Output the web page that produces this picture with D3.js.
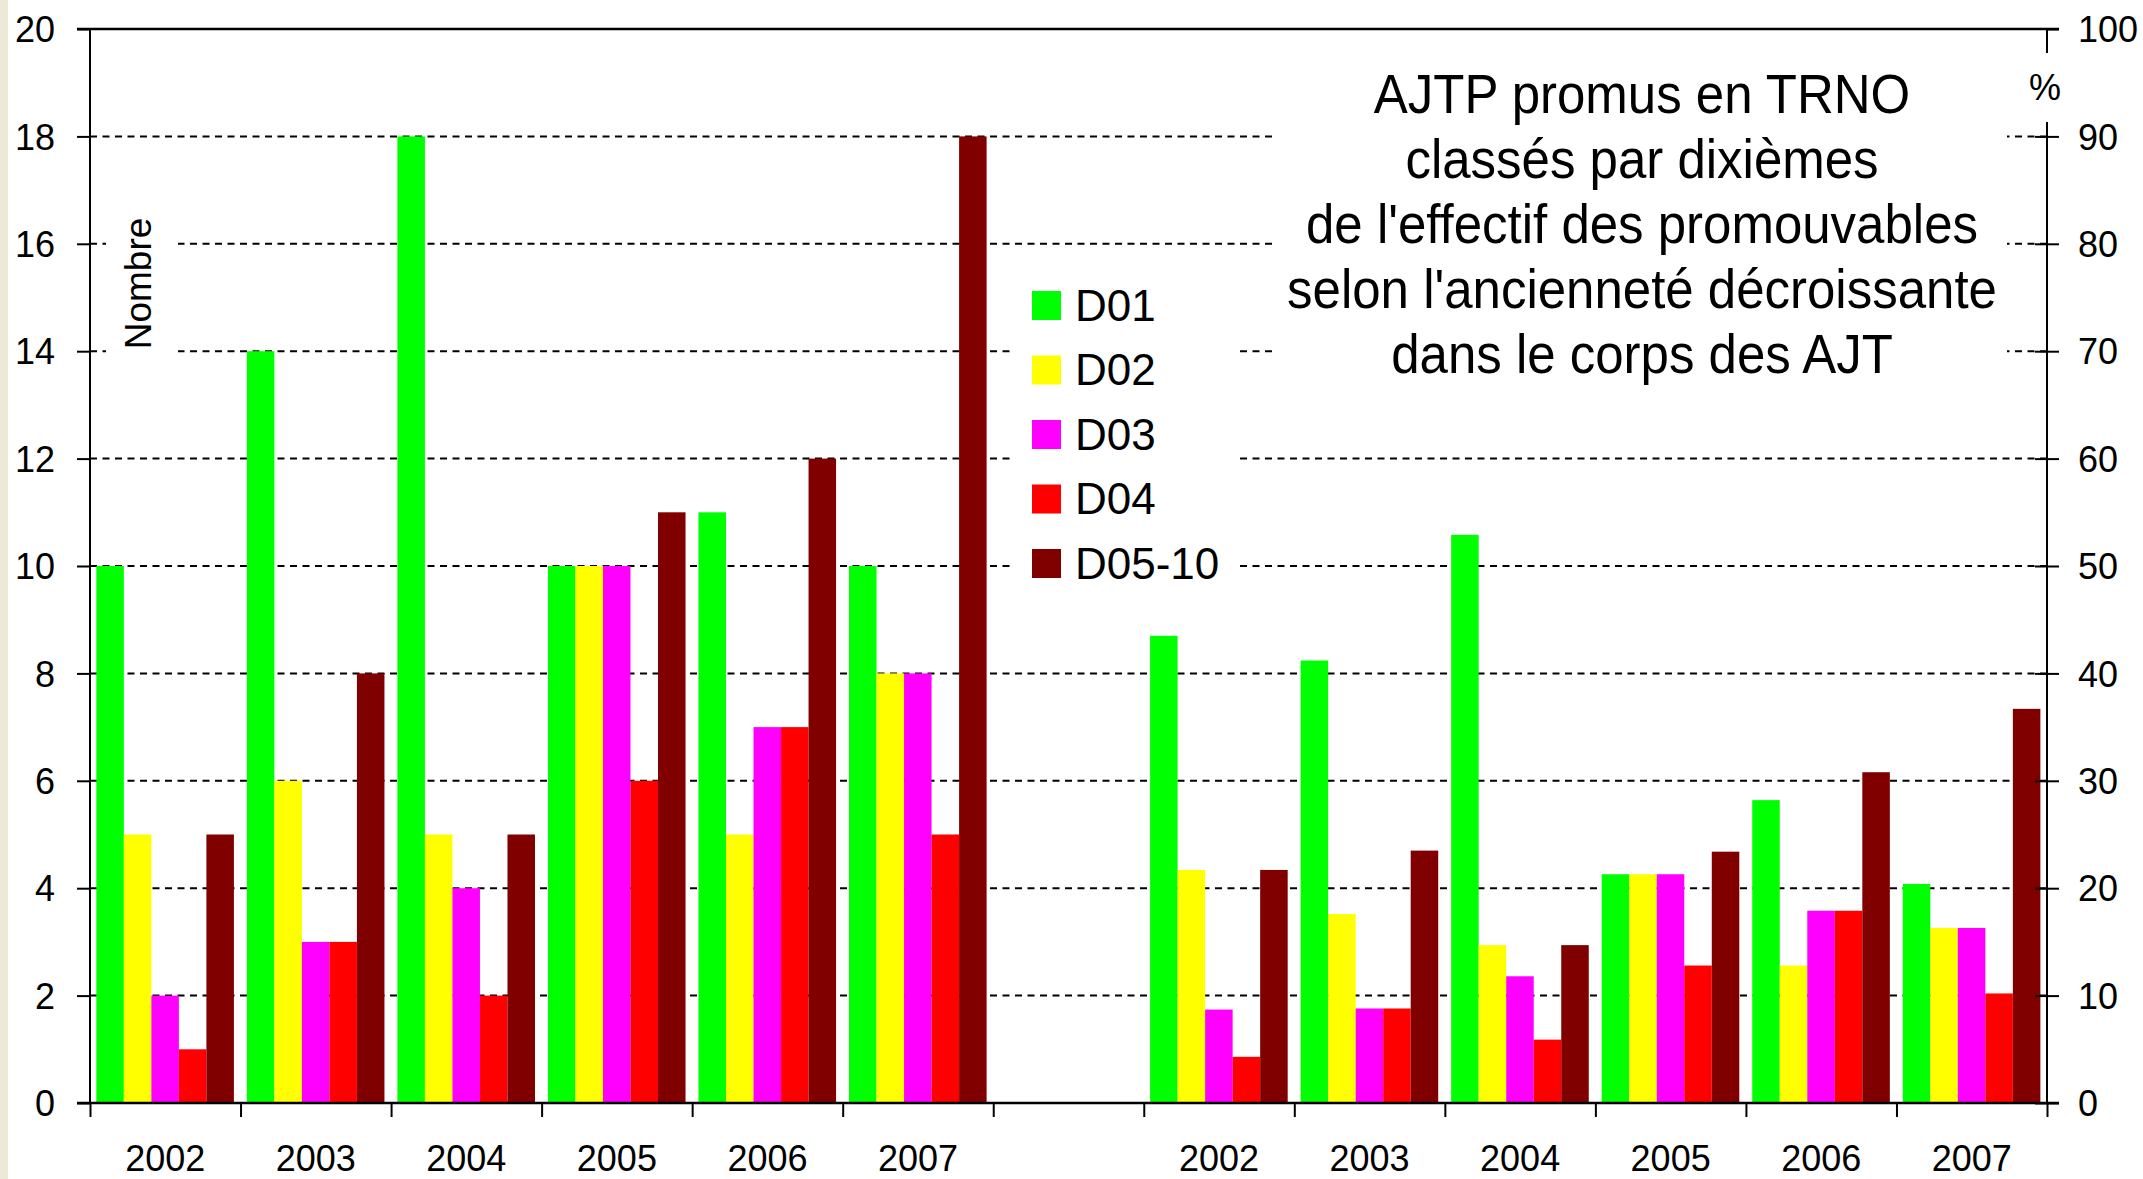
<!DOCTYPE html>
<html>
<head>
<meta charset="utf-8">
<script src="https://cdn.jsdelivr.net/npm/d3@7"></script>
<style>
  html, body { margin: 0; padding: 0; background: #ffffff; }
  svg { display: block; }
  text { font-family: "Liberation Sans", Arial, sans-serif; fill: #000; }
</style>
</head>
<body>
<script>
// ---------- data ----------
const years = ["2002", "2003", "2004", "2005", "2006", "2007"];
const seriesNames = ["D01", "D02", "D03", "D04", "D05-10"];
const seriesColors = ["#00ff00", "#ffff00", "#ff00ff", "#ff0000", "#800000"];

// Nombre (left axis)
const nombreD01 = [10, 14, 18, 10, 11, 10];
const nombreD02 = [5, 6, 5, 10, 5, 8];
const nombreD03 = [2, 3, 4, 10, 7, 8];
const nombreD04 = [1, 3, 2, 6, 7, 5];
const nombreD05_10 = [5, 8, 5, 11, 12, 18];

// % (right axis)
const pctD01 = [43.5, 41.2, 52.9, 21.3, 28.2, 20.4];
const pctD02 = [21.7, 17.6, 14.7, 21.3, 12.8, 16.3];
const pctD03 = [8.7, 8.8, 11.8, 21.3, 17.9, 16.3];
const pctD04 = [4.3, 8.8, 5.9, 12.8, 17.9, 10.2];
const pctD05_10 = [21.7, 23.5, 14.7, 23.4, 30.8, 36.7];

const leftTicks = [0, 2, 4, 6, 8, 10, 12, 14, 16, 18, 20];
const rightTicks = [0, 10, 20, 30, 40, 50, 60, 70, 80, 90, 100];

const titleLines = [
  "AJTP promus en TRNO",
  "classés par dixièmes",
  "de l'effectif des promouvables",
  "selon l'ancienneté décroissante",
  "dans le corps des AJT"
];

const nombreSeries = [nombreD01, nombreD02, nombreD03, nombreD04, nombreD05_10];
const pctSeries = [pctD01, pctD02, pctD03, pctD04, pctD05_10];

// ---------- layout ----------
const W = 2143, H = 1179;
const plotL = 90, plotR = 2047, plotT = 29, plotB = 1103;

const svg = d3.select("body").append("svg").attr("width", W).attr("height", H);
svg.append("rect").attr("width", W).attr("height", H).attr("fill", "#ffffff");
svg.append("rect").attr("x", 0).attr("y", 0).attr("width", 8).attr("height", H).attr("fill", "#ece9d8");

const x0 = d3.scaleBand().domain(d3.range(13)).range([plotL, plotR]).padding(0);
const bw = x0.bandwidth();
const x1 = d3.scaleBand().domain(seriesNames).range([bw * 0.042, bw * 0.956]).padding(0);
const yL = d3.scaleLinear().domain([0, 20]).range([plotB, plotT]);
const yR = d3.scaleLinear().domain([0, 100]).range([plotB, plotT]);

// gridlines
svg.append("g").selectAll("line")
  .data(leftTicks.filter(v => v > 0 && v < 20))
  .join("line")
  .attr("x1", plotL).attr("x2", plotR)
  .attr("y1", d => yL(d)).attr("y2", d => yL(d))
  .attr("stroke", "#000").attr("stroke-width", 2)
  .attr("stroke-dasharray", "7,5.5");

// bars
const barData = [];
seriesNames.forEach((s, si) => {
  years.forEach((y, yi) => {
    barData.push({ s, color: seriesColors[si], cat: yi, y: yL(nombreSeries[si][yi]) });
    barData.push({ s, color: seriesColors[si], cat: yi + 7, y: yR(pctSeries[si][yi]) });
  });
});
svg.append("g").selectAll("rect")
  .data(barData)
  .join("rect")
  .attr("x", d => x0(d.cat) + x1(d.s))
  .attr("width", x1.bandwidth())
  .attr("y", d => d.y)
  .attr("height", d => plotB - d.y)
  .attr("fill", d => d.color);

// white boxes covering gridlines (title, legend, axis title)
svg.append("rect").attr("x", 1277).attr("y", 45).attr("width", 730).attr("height", 355).attr("fill", "#fff");
svg.append("rect").attr("x", 1010).attr("y", 262).attr("width", 225).attr("height", 345).attr("fill", "#fff");
svg.append("rect").attr("x", 106).attr("y", 190).attr("width", 72).attr("height", 185).attr("fill", "#fff");

// left axis
const axL = svg.append("g").attr("transform", `translate(${plotL},0)`)
  .call(d3.axisLeft(yL).tickValues(leftTicks).tickSize(13).tickPadding(22).tickFormat(d3.format("d")));
axL.select(".domain").remove();
axL.selectAll(".tick line").attr("stroke", "#000").attr("stroke-width", 2);
axL.selectAll(".tick text").style("font-size", "36px").attr("dy", "0.35em");
svg.append("line").attr("x1", plotL).attr("x2", plotL).attr("y1", plotT).attr("y2", plotB)
  .attr("stroke", "#000").attr("stroke-width", 2);

// right axis
const axR = svg.append("g").attr("transform", `translate(${plotR},0)`)
  .call(d3.axisRight(yR).tickValues(rightTicks).tickSize(12).tickPadding(19).tickFormat(d3.format("d")));
axR.select(".domain").remove();
axR.selectAll(".tick line").attr("x1", d => (d === 100 ? 0 : -12)).attr("stroke", "#000").attr("stroke-width", 2);
axR.selectAll(".tick text").style("font-size", "36px").attr("dy", "0.35em");
svg.append("line").attr("x1", plotR).attr("x2", plotR).attr("y1", plotT).attr("y2", 53)
  .attr("stroke", "#000").attr("stroke-width", 2);
svg.append("line").attr("x1", plotR).attr("x2", plotR).attr("y1", 122).attr("y2", plotB)
  .attr("stroke", "#000").attr("stroke-width", 2);

// top border line
svg.append("line").attr("x1", plotL - 13).attr("x2", plotR + 12).attr("y1", plotT).attr("y2", plotT)
  .attr("stroke", "#000").attr("stroke-width", 2.5);

// bottom axis (category boundaries)
const xb = d3.scaleLinear().domain([0, 13]).range([plotL, plotR]);
const axB = svg.append("g").attr("transform", `translate(0,${plotB})`)
  .call(d3.axisBottom(xb).tickValues(d3.range(14)).tickSize(14).tickFormat(""));
axB.select(".domain").remove();
axB.selectAll(".tick line").attr("stroke", "#000").attr("stroke-width", 2);
svg.append("line").attr("x1", plotL - 13).attr("x2", plotR + 12).attr("y1", plotB).attr("y2", plotB)
  .attr("stroke", "#000").attr("stroke-width", 2.5);

// year labels
const yearLabels = years.map((y, i) => ({ y, cat: i })).concat(years.map((y, i) => ({ y, cat: i + 7 })));
svg.append("g").selectAll("text")
  .data(yearLabels)
  .join("text")
  .attr("x", d => x0(d.cat) + bw / 2)
  .attr("y", 1171)
  .attr("text-anchor", "middle")
  .style("font-size", "36px")
  .text(d => d.y);

// axis titles
svg.append("text")
  .attr("transform", "translate(151,283.5) rotate(-90)")
  .attr("text-anchor", "middle")
  .style("font-size", "37px")
  .text("Nombre");
svg.append("text")
  .attr("x", 2045).attr("y", 100)
  .attr("text-anchor", "middle")
  .style("font-size", "36px")
  .text("%");

// legend
const leg = svg.append("g").selectAll("g")
  .data(seriesNames)
  .join("g")
  .attr("transform", (d, i) => `translate(1032,${291 + i * 64.5})`);
leg.append("rect").attr("width", 29).attr("height", 29)
  .attr("fill", (d, i) => seriesColors[i]);
leg.append("text").attr("x", 43).attr("y", 29.5)
  .style("font-size", "44px")
  .text(d => d);

// title
svg.append("g").selectAll("text")
  .data(titleLines)
  .join("text")
  .attr("transform", (d, i) => `translate(1642,${113 + i * 65}) scale(1,1.08)`)
  .attr("text-anchor", "middle")
  .style("font-size", "51px")
  .text(d => d);
</script>
</body>
</html>
